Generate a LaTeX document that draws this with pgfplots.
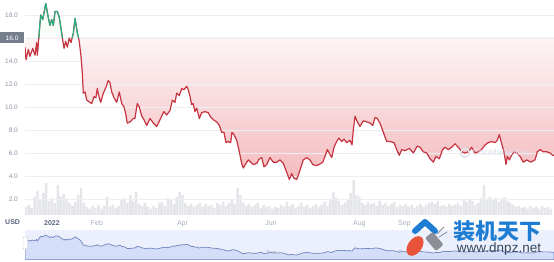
\documentclass[border=0pt]{standalone}
\usepackage{pgfplots}
\pgfplotsset{compat=1.18}
\usepackage{pgfplotstable}
\usepackage{fontspec}
\setmainfont{Liberation Sans}
\newfontfamily\cjk{Noto Sans CJK SC}
\definecolor{redline}{RGB}{198,52,64}
\definecolor{greenline}{RGB}{40,176,126}
\definecolor{redtop}{RGB}{253,244,245}
\definecolor{redbot}{RGB}{244,186,190}
\definecolor{greentop}{RGB}{196,238,219}
\definecolor{greenbot}{RGB}{246,252,249}
\definecolor{gridc}{RGB}{236,238,242}
\definecolor{ylab}{RGB}{138,147,164}
\definecolor{boxgray}{RGB}{118,125,139}
\definecolor{xdark}{RGB}{88,102,126}
\definecolor{xlight}{RGB}{167,174,189}
\definecolor{volc}{RGB}{228,230,234}
\definecolor{navbg}{RGB}{236,240,253}
\definecolor{navfill}{RGB}{213,222,248}
\definecolor{navline}{RGB}{112,134,189}
\definecolor{navtext}{RGB}{150,160,180}
\definecolor{cjkblue}{RGB}{30,125,210}
\definecolor{wwwc}{RGB}{54,71,90}
\definecolor{logored}{RGB}{232,83,58}
\definecolor{logogray}{RGB}{140,144,150}
\definecolor{cmcwm}{RGB}{222,227,236}
\pgfdeclareverticalshading{greenfade}{100bp}{color(0bp)=(white); color(84bp)=(greenbot); color(100bp)=(greentop)}

\pgfplotstableread{
x y
-18.6 15.2
-17.9 14.1
-16.3 15.0
-15.2 14.4
-13.3 15.1
-11.7 14.5
-10.6 15.6
-10.1 14.5
-9.1 16.0
-8.8 16.5
-7.8 18.0
-6.4 17.6
-4.3 19.0
-2.6 17.8
-1.4 17.1
-0.2 17.6
0.9 17.1
2.1 18.3
3.7 18.3
5.0 17.8
6.0 17.0
7.2 16.0
7.4 15.8
8.3 15.1
9.4 15.7
10.6 15.2
11.9 16.0
13.1 15.6
13.9 16.0
14.7 16.4
15.9 17.7
17.4 16.5
18.3 16.0
18.8 15.7
20.0 14.4
20.9 13.0
21.6 11.2
22.8 11.3
23.9 10.6
26.2 10.4
27.4 10.3
29.0 10.9
30.3 10.8
31.2 11.6
32.6 10.8
33.6 10.4
35.4 11.2
37.2 11.7
38.8 12.3
40.0 12.1
41.2 11.3
42.8 10.8
44.6 10.4
46.4 11.3
48.1 10.3
49.7 10.0
51.0 9.3
51.9 8.6
53.8 8.7
56.1 9.0
57.2 9.0
58.8 10.3
60.2 10.0
61.9 9.2
63.4 8.9
65.3 8.4
67.6 9.0
69.9 8.6
72.2 8.3
74.5 8.9
77.2 9.6
79.1 9.3
81.4 9.7
83.0 10.6
84.8 10.4
86.0 11.2
87.8 11.0
89.4 11.6
91.0 11.5
92.9 11.8
94.0 11.5
95.2 10.9
96.3 10.2
97.4 10.3
98.6 9.6
99.8 9.9
101.6 9.0
103.2 9.5
105.5 9.6
107.8 9.5
109.0 9.2
111.2 8.9
113.6 8.7
115.4 8.4
117.0 7.8
118.6 7.8
120.0 6.9
121.6 7.0
123.2 6.9
124.1 7.8
125.5 7.6
127.4 7.1
129.2 6.1
130.8 5.1
131.9 4.7
133.8 5.1
135.4 5.4
137.0 5.2
138.8 5.0
141.2 5.1
143.0 5.5
144.6 5.6
146.2 4.8
148.1 5.0
150.3 5.6
152.6 5.2
155.0 5.2
157.2 5.4
159.5 5.1
161.9 4.3
163.7 3.7
165.3 4.2
166.9 3.8
168.8 3.7
171.0 4.5
173.3 5.4
175.7 5.6
177.9 5.4
179.8 5.0
182.1 4.9
184.3 5.0
186.7 5.2
188.3 5.7
189.9 6.3
191.2 6.0
192.9 5.6
194.5 6.5
196.3 7.0
197.9 7.3
199.8 7.0
201.4 7.2
203.2 6.9
205.5 7.1
206.9 6.7
207.8 8.0
209.0 9.2
210.6 8.7
212.4 8.3
214.7 8.8
217.4 8.7
219.3 8.6
221.2 8.4
222.8 9.1
224.3 9.0
226.2 8.6
228.5 7.8
230.8 7.0
233.1 7.0
235.9 6.9
237.7 6.3
239.5 5.8
241.2 6.3
243.4 6.2
246.4 6.4
249.2 6.0
251.9 6.6
253.8 6.5
256.1 6.1
258.4 6.0
260.7 5.5
263.0 5.2
264.8 5.7
267.1 5.5
269.4 6.3
271.0 6.5
273.3 6.3
275.7 6.5
277.9 6.8
280.2 6.5
282.6 6.1
284.8 6.0
287.1 6.1
289.4 6.5
291.7 6.0
294.0 6.1
296.3 6.3
298.6 6.7
300.9 6.9
303.2 7.0
305.5 6.9
307.1 7.1
308.5 7.6
309.7 7.0
310.8 6.5
311.7 6.1
313.1 5.0
314.0 5.7
315.4 5.4
317.0 5.8
318.6 6.1
320.5 6.0
322.8 5.7
325.0 5.2
327.4 5.4
330.1 5.2
333.1 5.4
334.7 6.1
336.6 6.3
338.8 6.1
341.2 6.1
343.4 6.0
345.3 5.8
346.2 5.8
}\pricetable

\pgfplotstableread{
x v
-18 8
-16 10
-14 7
-12 18
-10 24
-8 15
-6 22
-4 32
-2 14
0 17
2 12
4 30
6 18
8 21
10 16
12 12
14 9
16 13
18 20
20 27
22 12
24 8
26 6
28 9
30 7
32 10
34 6
36 9
38 18
40 8
42 10
44 7
46 9
48 15
50 17
52 12
54 20
56 14
58 23
60 11
62 9
64 12
66 8
68 6
70 9
72 7
74 12
76 13
78 9
80 17
82 15
84 11
86 18
88 23
90 20
92 12
94 9
96 11
98 8
100 10
102 12
104 8
106 11
108 9
110 10
112 7
114 12
116 10
118 13
120 9
122 12
124 15
126 11
128 27
130 20
132 12
134 9
136 11
138 8
140 10
142 12
144 7
146 10
148 8
150 9
152 6
154 8
156 7
158 10
160 8
162 13
164 9
166 11
168 7
170 9
172 12
174 8
176 10
178 7
180 9
182 11
184 8
186 10
188 13
190 9
192 15
194 23
196 17
198 14
200 10
202 12
204 16
206 22
208 35
210 20
212 18
214 12
216 10
218 13
220 11
222 12
224 9
226 14
228 10
230 12
232 9
234 11
236 13
238 8
240 10
242 9
244 11
246 8
248 10
250 7
252 9
254 11
256 8
258 10
260 12
262 13
264 11
266 14
268 9
270 10
272 8
274 11
276 9
278 10
280 12
282 9
284 15
286 13
288 16
290 14
292 10
294 12
296 17
298 30
300 16
302 18
304 15
306 17
308 13
310 16
312 18
314 14
316 12
318 10
320 8
322 9
324 7
326 8
328 6
330 9
332 7
334 8
336 6
338 9
340 7
342 8
344 6
}\voltable

\begin{document}
\begin{tikzpicture}
\path[use as bounding box] (0pt,0pt) rectangle (554pt,262pt);

% area fills (price scale)
\begin{axis}[at={(25pt,45pt)}, anchor=south west, scale only axis,
  width=529pt, height=217pt, xmin=-18.62, xmax=346.2, ymin=0.435, ymax=19.304,
  hide axis]
\addplot[shading=greenfade, shade, draw=none] table[x=x,y=y] {\pricetable} \closedcycle;
\shade[top color=redtop, bottom color=redbot] (axis cs:-18.62,3.5) rectangle (axis cs:346.2,16);
\fill[white] (axis cs:-18.62,0) rectangle (axis cs:346.2,3.5);
\addplot[fill=white, draw=none] table[x=x, y expr={min(\thisrow{y},16)}] {\pricetable} \closedcycle;
\end{axis}

% volume
\begin{axis}[at={(25pt,45pt)}, anchor=south west, scale only axis,
  width=529pt, height=217pt, xmin=-18.62, xmax=346.2, ymin=-2, ymax=215,
  hide axis, ybar, bar width=1.7]
\addplot[fill=volc, draw=none] table[x=x,y=v] {\voltable};
\end{axis}

% price line, grid, labels
\begin{axis}[at={(25pt,45pt)}, anchor=south west, scale only axis,
  width=529pt, height=217pt, xmin=-18.62, xmax=346.2, ymin=0.435, ymax=19.304,
  axis line style={draw=none}, major tick style={draw=none},
  ytick={2,4,6,8,10,12,14,18}, ymajorgrids, grid style={gridc, line width=0.6pt},
  extra y ticks={16},
  extra y tick style={yticklabel style={fill=boxgray, text=white, minimum width=24.5pt, minimum height=11pt, xshift=6.5pt}},
  /pgf/number format/fixed, /pgf/number format/fixed zerofill,
  /pgf/number format/precision=1, /pgf/number format/assume math mode=true,
  yticklabel style={color=ylab, inner sep=0pt, xshift=-7pt, font=\fontsize{6.5}{7}\selectfont},
  xtick={0,31,90,151,212,243},
  xticklabels={{\bfseries\color{xdark}2022},Feb,Apr,Jun,Aug,Sep},
  xticklabel style={color=xlight, anchor=base, yshift=-9pt, font=\fontsize{7}{8}\selectfont}]
\addplot[redline, line width=1.2pt, line join=round] table[x=x,y=y] {\pricetable};
\addplot[greenline, line width=1.2pt, line join=round, restrict y to domain=16:25, unbounded coords=jump] table[x=x,y=y] {\pricetable};
\end{axis}

\node[anchor=base west, font=\bfseries\fontsize{7}{8}\selectfont, color=xdark, inner sep=0pt] at (5pt,37pt) {USD};

% navigator
\begin{axis}[at={(25pt,2pt)}, anchor=south west, scale only axis,
  width=529pt, height=30pt, xmin=-18.62, xmax=346.2, ymin=-0.13, ymax=22.83,
  axis background/.style={fill=navbg},
  axis line style={draw=none}, major tick style={draw=none}, ytick=\empty,
  xtick={0,31,90,151,212,243},
  xticklabels={2022,Feb,Apr,Jun,Aug,Sep},
  xticklabel style={color=navtext, anchor=base, yshift=4pt, font=\fontsize{7}{8}\selectfont}]
\addplot[fill=navfill, draw=navline, line width=0.7pt] table[x=x,y=y] {\pricetable} \closedcycle;
\end{axis}
\draw[gray!45, fill=white, rounded corners=1pt] (23pt,13pt) rectangle (27.5pt,25pt);

% faint CoinMarketCap watermark
\draw[cmcwm, line width=1.6pt] (465pt,109pt) circle (4.5pt);
\node[anchor=west, color=cmcwm, font=\fontsize{8.5}{9}\selectfont, inner sep=0pt] at (472pt,109pt) {CoinMarketCap};

% site watermark
\draw[cjkblue, line width=6pt, line cap=round, line join=round] (415pt,31pt) -- (425pt,40pt) -- (435pt,31pt);
\fill[logored, rotate around={-35:(415pt,16pt)}] (415pt,16pt) ellipse [x radius=7pt, y radius=11pt];
\fill[logogray, rotate around={40:(434pt,21pt)}, rounded corners=2pt] (429pt,12pt) rectangle (439pt,29pt);
\draw[logogray, line width=0.8pt] (437pt,28pt) -- (444pt,35pt) (439pt,25pt) -- (447pt,30pt);
\node[color=cjkblue, font=\cjk\bfseries\fontsize{22}{22}\selectfont, inner sep=0pt] at (497.5pt,31pt) {装机天下};
\node[color=wwwc, font=\fontsize{13.5}{14}\selectfont, inner sep=0pt] at (499pt,12.5pt) {www.dnpz.net};
\end{tikzpicture}
\end{document}
